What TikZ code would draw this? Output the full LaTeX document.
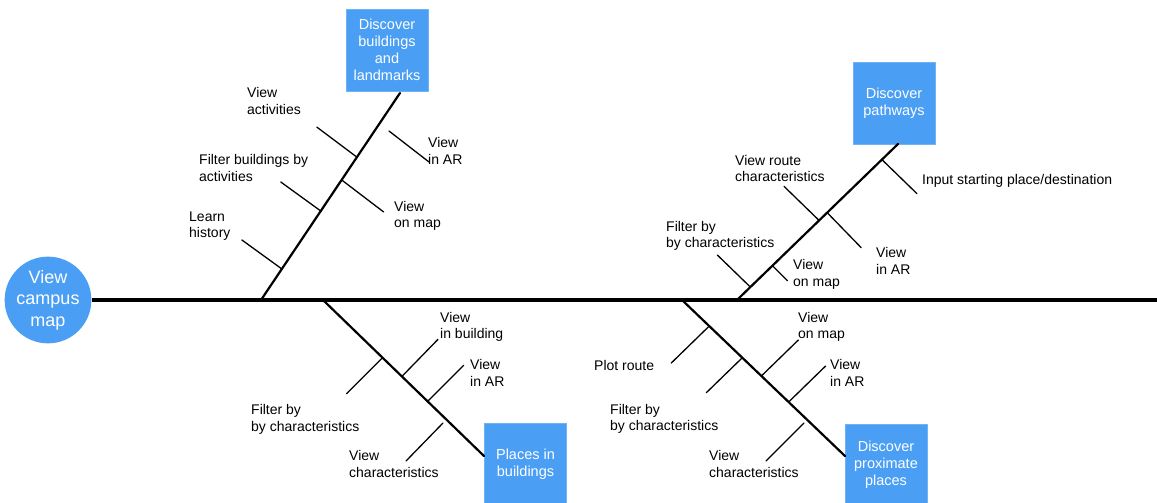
\documentclass[tikz,border=0pt]{standalone}
\usepackage{fontspec}
\setmainfont{Liberation Sans}
\usetikzlibrary{calc}
\definecolor{mapblue}{RGB}{74,159,245}
\begin{document}
\begin{tikzpicture}[x=1pt,y=-1pt, line join=round, line cap=round,
	lbl/.style={anchor=west, align=left, inner sep=0pt, font=\fontsize{14}{16.5}\selectfont},
	goal/.style={fill=mapblue, draw=mapblue!80, minimum width=82pt, minimum height=82pt, text=white, align=center, inner sep=1pt, font=\fontsize{14.5}{17}\selectfont},
	bone/.style={line width=2.2pt},
	tick/.style={line width=1.3pt}]
	\useasboundingbox (0,0) rectangle (1157,503);
	% head and spine
	\node[circle, fill=mapblue, minimum size=82pt, inner sep=0pt, text=white, align=center, font=\fontsize{18}{21.5}\selectfont] (campus) at (48,300) {View\\campus\\map};
	\coordinate (spineR) at (1157,300);
	\draw[line width=3.5pt, line cap=butt] (campus.east) -- (spineR);
	% goal boxes
	\node[goal] (build) at (387,50) {Discover\\buildings\\and\\landmarks};
	\node[goal] (paths) at (894,103) {Discover\\pathways};
	\node[goal] (inbuild) at (525.5,464) {Places in\\buildings};
	\node[goal] (prox) at (886,465) {Discover\\proximate\\places};
	% main bones
	\coordinate (b1s) at (261,300); \coordinate (b1e) at (400,93);
	\coordinate (b2s) at (737,300); \coordinate (b2e) at (898,144);
	\coordinate (b3s) at (323,300); \coordinate (b3e) at (484,456);
	\coordinate (b4s) at (682,300); \coordinate (b4e) at (845,456);
	\foreach \i in {1,2,3,4}
	\draw[bone] (b\i s) -- (b\i e);
	% small bones
	\foreach \b/\t/\dx/\dy/\n in {1/0.15/-40/-29/a, 1/0.43/-40/-29/b, 1/0.69/-40/-30/c, 1/0.58/42/32/d,
		2/0.083/-33/-32/a, 2/0.22/15/15/b, 2/0.51/-35/-34/c, 2/0.56/34/35/d, 2/0.90/35/34/e,
		3/0.37/-36/36/a, 3/0.49/36/-37/b, 3/0.65/36/-36/c,
		4/0.167/-38/37/a, 4/0.37/-36/35/b, 4/0.487/37/-36/c, 4/0.654/37/-36/d}
	{
		\path ($(b\b s)!\t!(b\b e)$) coordinate (k\b\n s) ++(\dx,\dy) coordinate (k\b\n e);
		\draw[tick] (k\b\n s) -- (k\b\n e);
	}
	% loose ones
	\coordinate (k1es) at (389,131); \coordinate (k1ee) at (429,162);
	\coordinate (k3ds) at (443,423); \coordinate (k3de) at (406,461);
	\coordinate (k4es) at (804,423); \coordinate (k4ee) at (766,461);
	\draw[tick] (k1es) -- (k1ee);
	\draw[tick] (k3ds) -- (k3de);
	\draw[tick] (k4es) -- (k4ee);
	% labels
	\foreach \p/\txt/\n in {{(189,226)}/{Learn\\history}/l1a, {(199,168)}/{Filter buildings by\\activities}/l1b,
		{(247,101)}/{View\\activities}/l1c, {(394,216)}/{View\\on map}/l1d, {(428,151)}/{View\\in AR}/l1e,
		{(666,236)}/{Filter by\\by characteristics}/l2a, {(793,274.5)}/{View\\on map}/l2b,
		{(735,168.5)}/{View route\\characteristics}/l2c, {(876,261)}/{View\\in AR}/l2d,
		{(922,181)}/{Input starting place/destination}/l2e,
		{(251,419.5)}/{Filter by\\by characteristics}/l3a, {(440,327)}/{View\\in building}/l3b,
		{(470,373)}/{View\\in AR}/l3c, {(349,464)}/{View\\characteristics}/l3d,
		{(594,365)}/{Plot route}/l4a, {(610,419)}/{Filter by\\by characteristics}/l4b,
		{(798,327)}/{View\\on map}/l4c, {(830,373)}/{View\\in AR}/l4d, {(709,464)}/{View\\characteristics}/l4e}
	\node[lbl] (\n) at \p {\txt};
\end{tikzpicture}
\end{document}
